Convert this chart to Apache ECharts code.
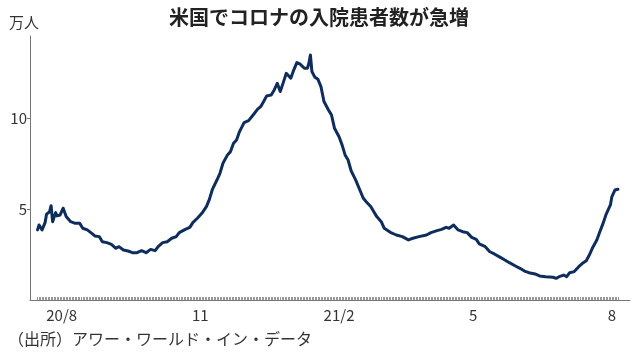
<!DOCTYPE html>
<html><head><meta charset="utf-8">
<script src="https://cdn.jsdelivr.net/npm/echarts@6/dist/echarts.min.js"></script>
<style>html,body{margin:0;padding:0;background:#fff}#c{width:638px;height:357px}</style>
</head><body><div id="c"></div>
<script>
var titleText = '米国でコロナの入院患者数が急増';
var unitText = '万人';
var sourceText = '（出所）アワー・ワールド・イン・データ';

var dates = [
'2020-07-16','2020-07-17','2020-07-19','2020-07-21','2020-07-22','2020-07-24','2020-07-25','2020-07-26','2020-07-28','2020-07-29','2020-07-31',
'2020-08-02','2020-08-04','2020-08-07','2020-08-10','2020-08-13','2020-08-15','2020-08-18','2020-08-21','2020-08-23','2020-08-26','2020-08-28','2020-08-31',
'2020-09-03','2020-09-06','2020-09-08','2020-09-11','2020-09-14','2020-09-17','2020-09-20','2020-09-23','2020-09-26','2020-09-29',
'2020-10-02','2020-10-04','2020-10-07','2020-10-10','2020-10-13','2020-10-16','2020-10-18','2020-10-22','2020-10-25','2020-10-27','2020-10-30',
'2020-11-02','2020-11-05','2020-11-07','2020-11-09','2020-11-12','2020-11-14','2020-11-16','2020-11-19','2020-11-21','2020-11-23','2020-11-25','2020-11-27','2020-11-30',
'2020-12-03','2020-12-04','2020-12-06','2020-12-09','2020-12-11','2020-12-13','2020-12-15','2020-12-18','2020-12-20','2020-12-22','2020-12-24','2020-12-26','2020-12-28','2020-12-31',
'2021-01-02','2021-01-04','2021-01-06','2021-01-09','2021-01-11','2021-01-12','2021-01-13','2021-01-14','2021-01-16','2021-01-18','2021-01-20','2021-01-22','2021-01-25','2021-01-27','2021-01-29',
'2021-02-01','2021-02-03','2021-02-05','2021-02-07','2021-02-09','2021-02-12','2021-02-15','2021-02-17','2021-02-19','2021-02-22','2021-02-26',
'2021-03-01','2021-03-03','2021-03-07','2021-03-11','2021-03-15','2021-03-19','2021-03-22','2021-03-26','2021-03-31',
'2021-04-03','2021-04-07','2021-04-10','2021-04-13','2021-04-15','2021-04-18','2021-04-21','2021-04-24','2021-04-27','2021-04-30',
'2021-05-03','2021-05-05','2021-05-09','2021-05-12','2021-05-15','2021-05-19','2021-05-22','2021-05-25','2021-05-29',
'2021-06-01','2021-06-04','2021-06-07','2021-06-11','2021-06-14','2021-06-18','2021-06-23','2021-06-25','2021-06-27','2021-06-30',
'2021-07-02','2021-07-04','2021-07-07','2021-07-10','2021-07-13','2021-07-15','2021-07-17','2021-07-19','2021-07-22','2021-07-24','2021-07-26','2021-07-28','2021-07-31',
'2021-08-01','2021-08-03','2021-08-05'
];
var patients = [
3.85,4.12,3.85,4.25,4.72,4.85,5.18,4.30,4.80,4.62,4.67,
5.04,4.58,4.30,4.21,4.21,3.94,3.85,3.66,3.52,3.48,3.20,3.15,
3.06,2.84,2.93,2.75,2.69,2.60,2.60,2.71,2.60,2.78,
2.71,2.93,3.15,3.20,3.39,3.48,3.70,3.88,3.99,4.25,4.49,
4.76,5.13,5.53,6.08,6.59,6.96,7.51,7.97,8.15,8.61,8.79,9.25,9.74,
9.85,9.80,10.16,10.48,10.62,10.90,11.21,11.26,11.54,11.90,11.45,11.94,12.45,12.18,
12.64,13.04,12.97,12.73,12.73,13.00,13.46,12.55,12.23,12.12,11.72,10.90,10.44,10.16,9.43,
8.97,8.52,7.97,7.69,7.10,6.60,6.00,5.60,5.40,5.13,4.58,
4.30,3.94,3.72,3.57,3.48,3.30,3.39,3.48,3.57,
3.70,3.81,3.88,3.99,3.94,4.12,3.85,3.75,3.70,3.44,
3.33,3.08,2.93,2.65,2.53,2.34,2.20,2.05,1.87,
1.74,1.59,1.50,1.43,1.32,1.28,1.25,1.19,1.28,1.37,
1.28,1.50,1.56,1.83,2.05,2.16,2.47,2.84,3.30,3.75,4.18,4.67,5.22,
5.68,6.04,6.08
];
var xTickDates = ['2020-08-01','2020-11-01','2021-02-01','2021-05-01','2021-08-01'];
var xTickLabels = ['20/8','11','21/2','5','8'];
var yTickValues = [5, 10];

var DAY = 86400000;
var base = Date.parse('2020-08-01T00:00:00Z');
function dayOf(s){ return Math.round((Date.parse(s+'T00:00:00Z') - base)/DAY); }
var seriesData = dates.map(function(d,i){ return [dayOf(d), patients[i]]; });
var labelDays = xTickDates.map(dayOf);
var labelMap = {}; labelDays.forEach(function(d,i){ labelMap[d] = xTickLabels[i]; });
var tickDays = [];
for (var t = dayOf(dates[0]); t <= dayOf(dates[dates.length-1]); t++) tickDays.push(t);

var FONT = '"Noto Sans CJK JP", "Noto Sans", sans-serif';
var chart = echarts.init(document.getElementById('c'), null, {renderer:'canvas'});
chart.setOption({
  animation: false,
  backgroundColor: '#fff',
  textStyle: { fontFamily: FONT },
  title: {
    text: titleText, left: 'center', top: 2,
    textStyle: { fontFamily: FONT, fontSize: 20, fontWeight: 'bold', color: '#222' }
  },
  graphic: [
    { type: 'text', left: 9, top: 15, style: { text: unitText, font: '15px ' + FONT, fill: '#333' } },
    { type: 'text', left: 8, top: 331, style: { text: sourceText, font: '16px ' + FONT, fill: '#333' } }
  ],
  grid: { left: 30, right: 8, top: 36, bottom: 57, containLabel: false },
  xAxis: {
    type: 'value', min: -21, max: 377,
    axisLine: { show: true, onZero: false, lineStyle: { color: '#777', width: 1 } },
    splitLine: { show: false },
    axisTick: { show: true, inside: true, length: 3, customValues: tickDays, lineStyle: { color: '#999', width: 1 } },
    axisLabel: {
      customValues: labelDays, margin: 8, fontSize: 15, color: '#333', fontFamily: FONT,
      formatter: function(v){ return labelMap[Math.round(v)] || ''; }
    }
  },
  yAxis: {
    type: 'value', min: 0, max: 14.5,
    axisLine: { show: true, onZero: false, lineStyle: { color: '#777', width: 1 } },
    splitLine: { show: false },
    axisTick: { show: true, length: 3, customValues: yTickValues, lineStyle: { color: '#777' } },
    axisLabel: { customValues: yTickValues, margin: 3, fontSize: 15, color: '#333', fontFamily: FONT }
  },
  series: [{
    type: 'line', data: seriesData, showSymbol: false, symbol: 'none',
    lineStyle: { color: '#0f2d5c', width: 3, join: 'round', cap: 'round' }
  }]
});
</script></body></html>
